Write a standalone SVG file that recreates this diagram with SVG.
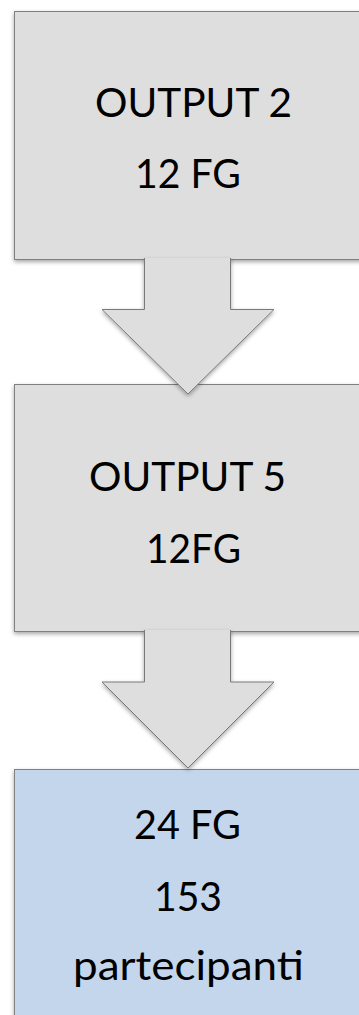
<svg xmlns="http://www.w3.org/2000/svg" width="359" height="1015" viewBox="0 0 359 1015">
<defs>
<filter id="sh" x="-20%" y="-20%" width="140%" height="140%">
<feDropShadow dx="0" dy="2" stdDeviation="2" flood-color="#000" flood-opacity="0.35"/>
</filter>
</defs>
<style>
.box{fill:#dedede;stroke:#808080;stroke-width:1;filter:url(#sh)}
.blue{fill:#c4d6eb}
.arrow{fill:#dedede;stroke:#7a7a7a;stroke-width:1;filter:url(#sh)}
text{font-family:Lato,"Liberation Sans",sans-serif;font-size:41px;fill:#000;text-anchor:middle}
</style>
<rect width="359" height="1015" fill="#fff"/>
<g id="node-output2">
<rect class="box" x="14.5" y="11.5" width="360" height="248"/>
<text x="193.5" y="117" textLength="197" lengthAdjust="spacingAndGlyphs">OUTPUT 2</text>
<text x="188" y="188" textLength="106" lengthAdjust="spacingAndGlyphs">12 FG</text>
</g>
<g id="node-output5">
<rect class="box" x="14.5" y="384.5" width="360" height="247"/>
<text x="187.5" y="491" textLength="197" lengthAdjust="spacingAndGlyphs">OUTPUT 5</text>
<text x="193.5" y="563" textLength="95" lengthAdjust="spacingAndGlyphs">12FG</text>
</g>
<g id="node-result">
<rect class="box blue" x="14.5" y="769.5" width="360" height="260"/>
<text x="187.5" y="839" textLength="107" lengthAdjust="spacingAndGlyphs">24 FG</text>
<text x="188" y="911" textLength="68" lengthAdjust="spacingAndGlyphs">153</text>
<text x="188.5" y="980" textLength="231" lengthAdjust="spacingAndGlyphs">partecipanti</text>
</g>
<g id="connectors">
<path class="arrow" d="M144.5,258 V309.5 H102 L188,394 L274,309.5 H230.5 V258"/>
<path class="arrow" d="M144.5,630 V682 H102 L188,768 L274,682 H230.5 V630"/>
</g>
</svg>
